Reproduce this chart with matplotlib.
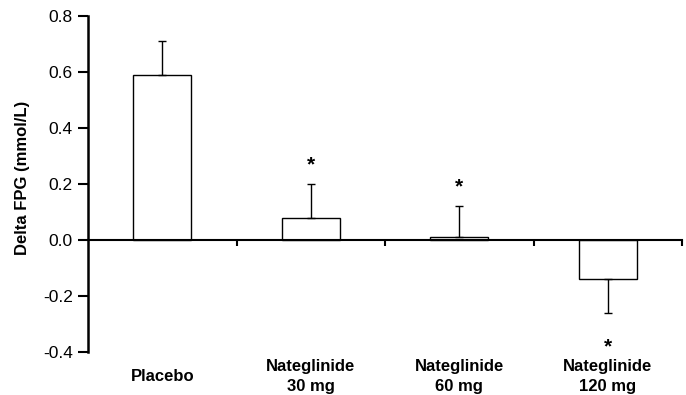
import matplotlib
matplotlib.use("Agg")
import matplotlib.pyplot as plt
import numpy as np
from matplotlib.transforms import blended_transform_factory

categories = ["Placebo", "Nateglinide\n30 mg", "Nateglinide\n60 mg", "Nateglinide\n120 mg"]
means = [0.59, 0.08, 0.01, -0.14]
errors = [0.12, 0.12, 0.11, 0.12]
significant = [False, True, True, True]
yticks = [-0.4, -0.2, 0.0, 0.2, 0.4, 0.6, 0.8]

plt.rcParams['font.family'] = ['Liberation Sans', 'DejaVu Sans']

fig = plt.figure(figsize=(6.86, 3.95), dpi=100)
ax = fig.add_axes([88/686, 1-352/395, (682-88)/686, (352-16)/395])

x = np.arange(len(categories))
lower = [e if m < 0 else 0 for m, e in zip(means, errors)]
upper = [e if m >= 0 else 0 for m, e in zip(means, errors)]

ax.bar(x, means, width=0.39, color='white', edgecolor='black', linewidth=1.0, zorder=2)
ax.errorbar(x, means, yerr=[lower, upper], fmt='none', ecolor='black',
            elinewidth=1.0, capsize=3.2, capthick=1.0, zorder=3)

for xi, m, e, s in zip(x, means, errors, significant):
    if not s:
        continue
    if m >= 0:
        ax.text(xi, m + e + 0.07, "*", ha='center', va='center', fontsize=15, fontweight='bold')
    else:
        ax.text(xi, m - e - 0.12, "*", ha='center', va='center', fontsize=15, fontweight='bold')

ax.set_xlim(-0.5, len(categories) - 0.5)
ax.set_ylim(-0.4, 0.8)
ax.set_yticks(yticks)
ax.set_yticklabels([f"{v:.1f}" for v in yticks], fontsize=12.5)
ax.tick_params(axis='y', direction='out', length=7, width=1.5, pad=4)

ax.spines['top'].set_visible(False)
ax.spines['right'].set_visible(False)
ax.spines['bottom'].set_position(('data', 0))
ax.spines['left'].set_linewidth(1.8)
ax.spines['bottom'].set_linewidth(1.5)

ax.set_xticks(np.arange(len(categories)) + 0.5)
ax.set_xticklabels([])
ax.tick_params(axis='x', direction='out', length=4, width=1.5)

trans = blended_transform_factory(ax.transData, ax.transAxes)
for xi, c in zip(x, categories):
    ax.text(xi, -0.072, c, transform=trans, ha='center', va='center',
            fontsize=12, fontweight='bold', linespacing=1.4)

fig.text(23/686, 1-178/395, "Delta FPG (mmol/L)", rotation=90, ha='center', va='center',
         fontsize=12, fontweight='bold')

fig.savefig("out.png", dpi=100)
